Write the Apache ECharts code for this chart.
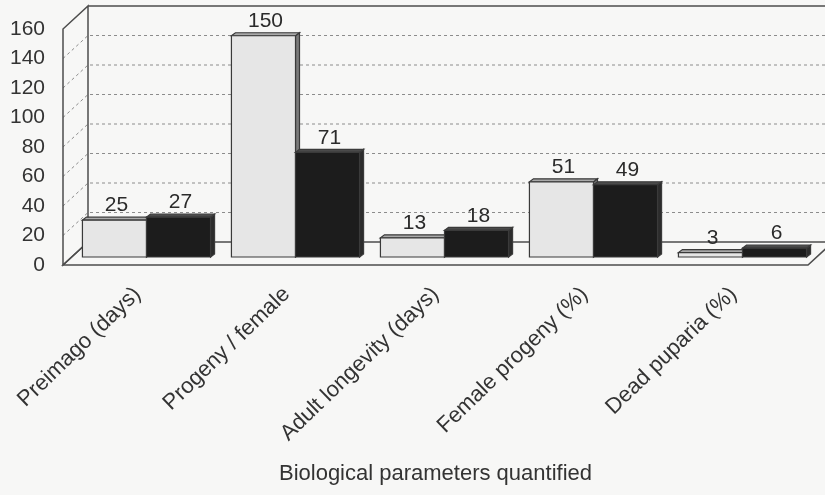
<!DOCTYPE html>
<html>
<head>
<meta charset="utf-8">
<script src="https://cdn.jsdelivr.net/npm/echarts@6/dist/echarts.min.js"></script>
<style>
  html, body { margin: 0; padding: 0; background: #f7f7f6; }
  #chart { width: 825px; height: 495px; }
</style>
</head>
<body>
<div id="chart"></div>
<script>
// Biological parameters, two treatments per parameter
const categories = [
  'Preimago (days)',
  'Progeny / female',
  'Adult longevity (days)',
  'Female progeny (%)',
  'Dead puparia (%)'
];
const lightValues = [25, 150, 13, 51, 3];
const darkValues = [27, 71, 18, 49, 6];
const yMin = 0;
const yMax = 160;
const yStep = 20;

const FONT = "'Liberation Sans', Arial, sans-serif";
const WALL = [25, -23];      // depth of the box (back wall shift)
const BAR_SHIFT = [9, -8];   // bars stand a little behind the front edge
const BAR_DEPTH = [4, -3];   // thickness of each bar

// Box made of back wall, left wall and floor, with dashed grid lines
function renderFrame(params, api) {
  const cs = params.coordSys;
  const x0 = cs.x, x1 = cs.x + cs.width;
  const yB = api.coord([0, yMin])[1];
  const yT = api.coord([0, yMax])[1];
  const dx = WALL[0], dy = WALL[1];
  const solid = { stroke: '#4d4d4d', lineWidth: 1.5, fill: null };
  const dashed = { stroke: '#8c8c8c', lineWidth: 1, lineDash: [3, 3], fill: null };
  const kids = [];
  for (let v = yMin + yStep; v < yMax; v += yStep) {
    const y = api.coord([0, v])[1];
    kids.push({ type: 'polyline', shape: { points: [[x0, y], [x0 + dx, y + dy], [x1 + dx + 40, y + dy]] }, style: dashed });
  }
  // left wall
  kids.push({ type: 'polygon', shape: { points: [[x0, yB], [x0, yT], [x0 + dx, yT + dy], [x0 + dx, yB + dy]] }, style: solid });
  // back wall top edge
  kids.push({ type: 'polyline', shape: { points: [[x0 + dx, yT + dy], [x1 + dx + 40, yT + dy]] }, style: solid });
  // floor
  kids.push({ type: 'polygon', shape: { points: [[x0, yB], [x1, yB], [x1 + dx, yB + dy], [x0 + dx, yB + dy]] }, style: solid });
  return { type: 'group', children: kids };
}

function barRenderer(slot, face, topC, sideC, edge) {
  return function (params, api) {
    const i = api.value(0), v = api.value(1);
    const band = api.size([1, 0])[0];
    const base = api.coord([i, 0]);
    const peak = api.coord([i, v]);
    const w = band * 0.43;
    const cx = base[0] + BAR_SHIFT[0];
    const xl = slot === 0 ? cx - w : cx;
    const xr = xl + w;
    const yb = base[1] + BAR_SHIFT[1];
    const yt = peak[1] + BAR_SHIFT[1];
    const ddx = BAR_DEPTH[0], ddy = BAR_DEPTH[1];
    const st = (fill) => ({ fill: fill, stroke: edge, lineWidth: 1.2 });
    return {
      type: 'group',
      children: [
        { type: 'polygon', shape: { points: [[xr, yb], [xr, yt], [xr + ddx, yt + ddy], [xr + ddx, yb + ddy]] }, style: st(sideC) },
        { type: 'polygon', shape: { points: [[xl, yt], [xr, yt], [xr + ddx, yt + ddy], [xl + ddx, yt + ddy]] }, style: st(topC) },
        { type: 'rect', shape: { x: xl, y: yt, width: w, height: yb - yt }, style: st(face) },
        {
          type: 'text',
          style: {
            text: String(v), x: xl + w / 2 + 2, y: yt + ddy - 1,
            align: 'center', verticalAlign: 'bottom',
            font: '21px ' + FONT, fill: '#2b2b2b'
          }
        }
      ]
    };
  };
}

const chart = echarts.init(document.getElementById('chart'), null, { renderer: 'canvas' });
chart.setOption({
  backgroundColor: '#f7f7f6',
  animation: false,
  grid: { left: 63, right: 17, top: 29, bottom: 230 },
  xAxis: {
    type: 'category',
    data: categories,
    axisLine: { show: false },
    axisTick: { show: false },
    axisLabel: {
      rotate: 44, margin: 26, interval: 0,
      fontSize: 22, fontFamily: FONT, color: '#333'
    },
    name: 'Biological parameters quantified',
    nameLocation: 'middle',
    nameGap: 198,
    nameMoveOverlap: false,
    nameTextStyle: { fontSize: 22, fontFamily: FONT, color: '#333' }
  },
  yAxis: {
    type: 'value',
    min: yMin, max: yMax, interval: yStep,
    axisLine: { show: false },
    axisTick: { show: false },
    splitLine: { show: false },
    axisLabel: { margin: 18, fontSize: 21, fontFamily: FONT, color: '#333' }
  },
  series: [
    {
      type: 'custom', name: 'frame', z: 1, silent: true,
      renderItem: renderFrame,
      data: [[0, 0]]
    },
    {
      type: 'custom', name: 'light', z: 2,
      renderItem: barRenderer(0, '#e6e6e6', '#a9a9a9', '#7a7a7a', '#3a3a3a'),
      data: lightValues.map((v, i) => [i, v])
    },
    {
      type: 'custom', name: 'dark', z: 3,
      renderItem: barRenderer(1, '#1c1c1c', '#4a4a4a', '#2c2c2c', '#3a3a3a'),
      data: darkValues.map((v, i) => [i, v])
    }
  ]
});
</script>
</body>
</html>
